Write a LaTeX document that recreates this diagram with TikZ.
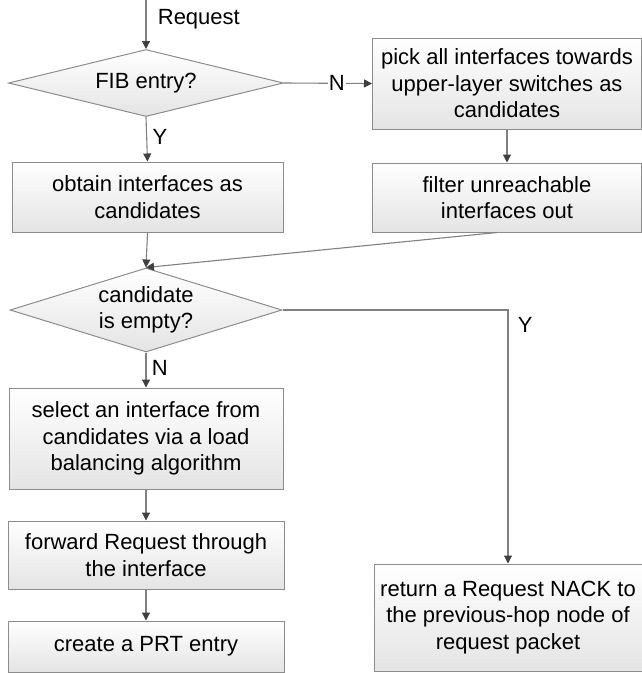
\documentclass[tikz,border=0pt]{standalone}
\usepackage{fontspec}
\setmainfont{Liberation Sans}
\usepackage{xcolor}
\usepackage{tikz}
\usetikzlibrary{arrows.meta, positioning, shapes.geometric}
\definecolor{edgegray}{HTML}{808080}
\definecolor{tipgray}{HTML}{404040}
\definecolor{boxline}{HTML}{8C8C8C}
\definecolor{boxbottom}{HTML}{E4E4E4}

\begin{document}
\begin{tikzpicture}[x=1pt, y=-1pt,
    font=\fontsize{22}{26.5}\selectfont,
    flow/.style={draw=edgegray, line width=1.1pt,
      -{Triangle[length=8pt, width=8pt, color=tipgray]}},
    stepbox/.style={rectangle, draw=boxline, line width=1pt, top color=white,
      bottom color=boxbottom, align=center, inner sep=0pt},
    decision/.style={diamond, draw=boxline, line width=1pt, top color=white,
      bottom color=boxbottom, align=center, inner sep=0pt}]
  \useasboundingbox (0,0) rectangle (642,673);
  % Rozhodovací uzly
  \node[decision, aspect=4.1, minimum width=275pt, minimum height=67pt] (fib) at (146,83)
    {FIB entry?};
  \node[decision, aspect=3.24, minimum width=272pt, minimum height=84pt] (empty) at (146,310)
    {candidate\\is empty?};
  % Levý sloupec
  \node[stepbox, minimum width=271pt, minimum height=70pt] (obtain) at (147.5,197)
    {obtain interfaces as\\candidates};
  \node[stepbox, minimum width=274pt, minimum height=101pt] (select) at (146,438.5)
    {select an interface from\\candidates via a load\\balancing algorithm};
  \node[stepbox, minimum width=276pt, minimum height=68pt] (forward) at (146,555)
    {forward Request through\\the interface};
  \node[stepbox, minimum width=276pt, minimum height=51pt] (prt) at (146,646.5)
    {create a PRT entry};
  % Pravý sloupec
  \node[stepbox, minimum width=269pt, minimum height=91pt] (pick) at (507,83.5)
    {pick all interfaces towards\\upper-layer switches as\\candidates};
  \node[stepbox, minimum width=269pt, minimum height=69pt] (filter) at (507,197.5)
    {filter unreachable\\interfaces out};
  \node[stepbox, minimum width=268pt, minimum height=107pt] (nack) at (508,617.5)
    {return a Request NACK to\\the previous-hop node of\\request packet};
  % Spojnice
  \coordinate (in) at (146,0);
  \draw[flow] (in) -- node[right=8pt, pos=0.4] {Request} (fib.north);
  \draw[flow] (fib.east) -- node[fill=white, inner sep=1pt, pos=0.6] {N} (pick.west);
  \draw[flow] (fib.south) -- node[right=2pt, pos=0.45] {Y} (obtain.north);
  \draw[flow] (pick.south) -- (filter.north);
  \draw[flow] (obtain.south) -- (empty.north);
  \draw[flow] ([xshift=-10pt]filter.south) -- (empty.north);
  \draw[flow] (empty.east) -| node[right=6pt, pos=0.53] {Y} (nack.north);
  \draw[flow] (empty.south) -- node[right=2pt, pos=0.45] {N} (select.north);
  \draw[flow] (select.south) -- (forward.north);
  \draw[flow] (forward.south) -- (prt.north);
\end{tikzpicture}
\end{document}
